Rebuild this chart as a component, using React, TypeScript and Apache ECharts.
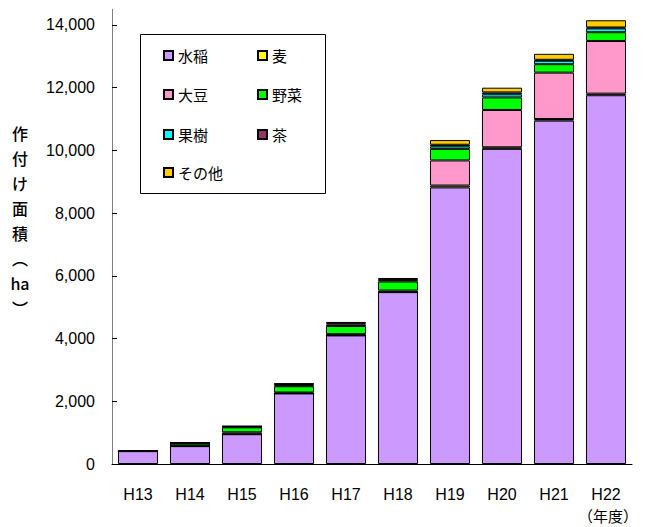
import React, { useEffect, useRef } from "react";
import * as echarts from "echarts";

const categories = ["H13", "H14", "H15", "H16", "H17", "H18", "H19", "H20", "H21", "H22"];
const seriesNames = ["水稲", "麦", "大豆", "野菜", "果樹", "茶", "その他"];
const suito = [410, 570, 950, 2250, 4100, 5480, 8820, 10050, 10950, 11760];
const mugi = [0, 0, 0, 0, 0, 0, 60, 50, 50, 50];
const daizu = [0, 10, 60, 30, 40, 50, 800, 1190, 1480, 1680];
const yasai = [0, 70, 160, 200, 260, 290, 370, 400, 270, 280];
const kaju = [0, 10, 15, 30, 50, 40, 80, 100, 110, 120];
const cha = [0, 20, 15, 40, 40, 30, 50, 60, 30, 30];
const sonota = [0, 10, 10, 20, 40, 40, 150, 150, 190, 230];
const colors = ["#CC99FF", "#FFFF00", "#FF99CC", "#00FF00", "#00FFFF", "#993366", "#FFCC00"];
const yTicks = [0, 2000, 4000, 6000, 8000, 10000, 12000, 14000];

const FONT = "'Liberation Sans', 'Noto Sans CJK JP', sans-serif";
const JFONT = "'Noto Sans CJK JP', sans-serif";

export default function App() {
  const ref = useRef<HTMLDivElement>(null);
  useEffect(() => {
    if (!ref.current) return;
    const chart = echarts.init(ref.current, undefined, { renderer: "svg" });
    const data = [suito, mugi, daizu, yasai, kaju, cha, sonota];
    const series = seriesNames.map((name, i) => ({
      name,
      type: "bar",
      stack: "total",
      barCategoryGap: "23%",
      clip: false,
      data: data[i],
      itemStyle: { color: colors[i], borderColor: "#000", borderWidth: 1 },
    }));
    const legendPos = [
      [158, 43], [252, 43],
      [158, 82], [252, 82],
      [158, 122], [252, 122],
      [158, 160],
    ];
    const legends = seriesNames.map((name, i) => ({
      data: [name],
      left: legendPos[i][0],
      top: legendPos[i][1],
      itemWidth: 9,
      itemHeight: 9,
      itemGap: 0,
      icon: "rect",
      textStyle: { fontFamily: JFONT, fontSize: 15, color: "#000" },
    }));
    chart.setOption({
      animation: false,
      legend: legends,
      grid: { left: 112, right: 15, top: 9.3, bottom: 63 },
      xAxis: {
        type: "category",
        data: categories,
        axisLine: { lineStyle: { color: "#000", width: 1 } },
        axisTick: { inside: true, length: 5, lineStyle: { color: "#000" } },
        axisLabel: { fontFamily: FONT, fontSize: 16, color: "#000", margin: 22 },
      },
      yAxis: {
        type: "value",
        min: 0,
        max: 14500,
        interval: 2000,
        splitLine: { show: false },
        axisLine: { show: true, lineStyle: { color: "#808080", width: 1 } },
        axisTick: { show: true, inside: true, length: 5, lineStyle: { color: "#000" }, customValues: yTicks },
        axisLabel: {
          fontFamily: FONT,
          fontSize: 16,
          color: "#000",
          margin: 17,
          customValues: yTicks,
          formatter: (v: number) => v.toLocaleString("en-US"),
        },
      },
      graphic: [
        {
          type: "rect",
          shape: { x: 140.5, y: 34.5, width: 185, height: 159 },
          style: { fill: "none", stroke: "#000", lineWidth: 1 },
          z: -1,
        },
        {
          type: "text",
          x: 20,
          y: 120,
          style: {
            text: "作\n付\nけ\n面\n積\n︵\nha\n︶",
            fontFamily: JFONT,
            fontSize: 16,
            fontWeight: 500,
            lineHeight: 25,
            fill: "#000",
            align: "center",
            verticalAlign: "top",
          },
        },
        {
          type: "text",
          x: 578,
          y: 508,
          style: {
            text: "（年度）",
            fontFamily: JFONT,
            fontSize: 15,
            fill: "#000",
          },
        },
      ],
      series,
    });
    return () => chart.dispose();
  }, []);
  return (
    <div
      ref={ref}
      style={{ position: "fixed", left: 0, top: 0, width: 647, height: 527, background: "#fff" }}
    />
  );
}
